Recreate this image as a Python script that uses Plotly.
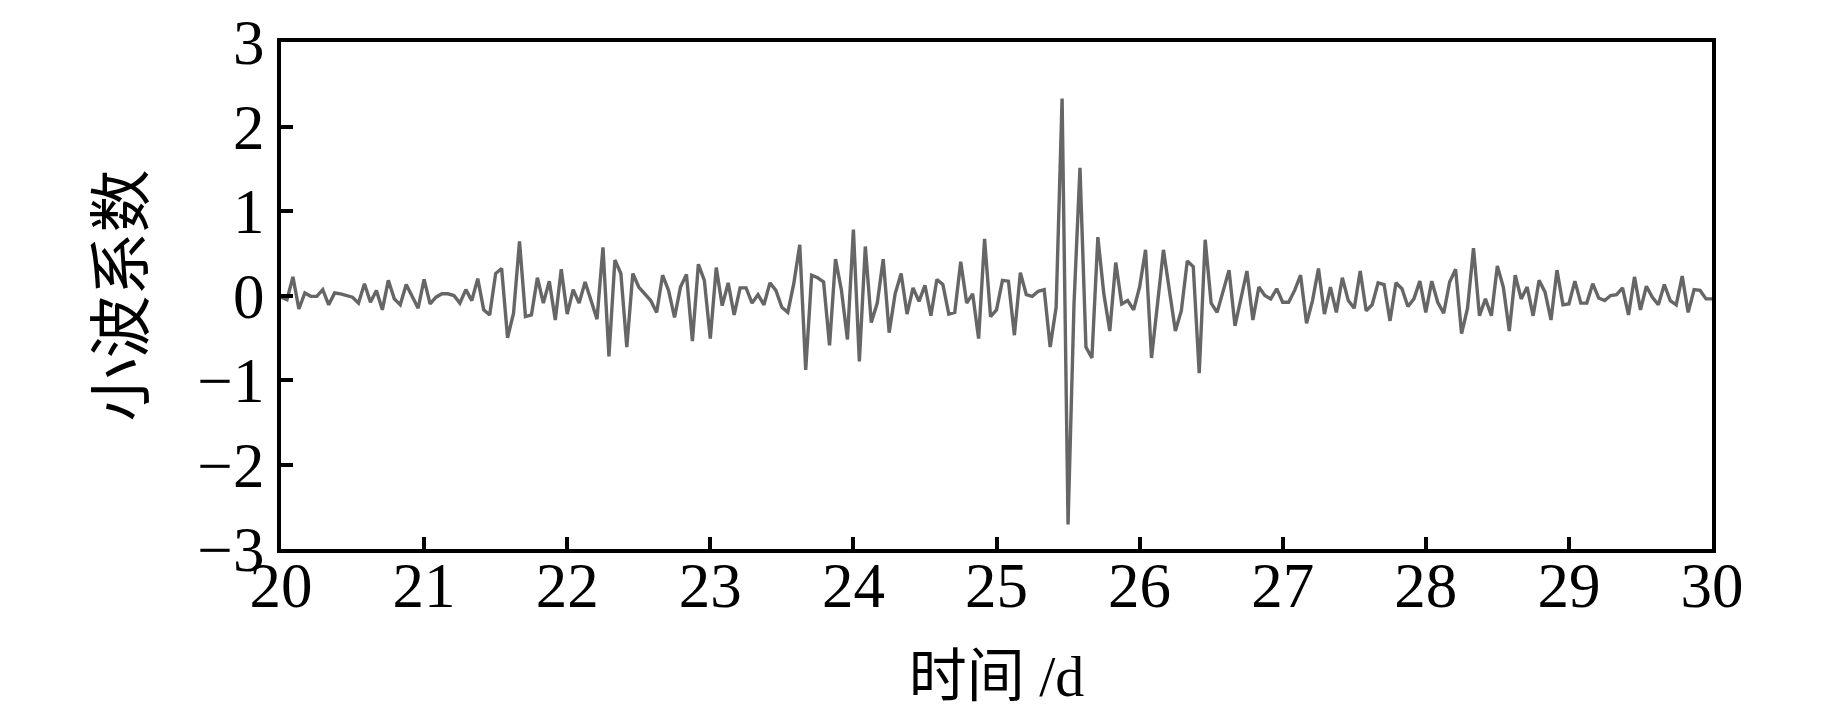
import plotly.graph_objects as go

# Wavelet coefficients, hourly samples from day 20 to day 30
coef = [
    -0.02, -0.05, 0.22, -0.16, 0.03, -0.01, -0.01, 0.07, -0.11, 0.03,
    0.02, 0.00, -0.02, -0.09, 0.14, -0.08, 0.06, -0.17, 0.18, -0.04,
    -0.11, 0.13, -0.01, -0.15, 0.19, -0.10, -0.02, 0.02, 0.02, 0.00,
    -0.09, 0.07, -0.06, 0.20, -0.17, -0.23, 0.26, 0.32, -0.50, -0.21,
    0.64, -0.25, -0.23, 0.21, -0.09, 0.17, -0.29, 0.31, -0.22, 0.07,
    -0.09, 0.16, -0.06, -0.28, 0.57, -0.72, 0.42, 0.26, -0.61, 0.26,
    0.10, 0.02, -0.06, -0.20, 0.24, 0.06, -0.26, 0.10, 0.25, -0.54,
    0.37, 0.18, -0.51, 0.33, -0.12, 0.15, -0.23, 0.09, 0.09, -0.09,
    0.01, -0.11, 0.15, 0.06, -0.14, -0.20, 0.14, 0.60, -0.88, 0.24,
    0.21, 0.16, -0.59, 0.43, 0.06, -0.52, 0.78, -0.78, 0.58, -0.32,
    -0.09, 0.43, -0.44, 0.02, 0.26, -0.22, 0.09, -0.07, 0.12, -0.24,
    0.19, 0.13, -0.22, -0.20, 0.40, -0.09, 0.02, -0.51, 0.67, -0.25,
    -0.17, 0.18, 0.17, -0.47, 0.27, 0.01, -0.01, 0.05, 0.07, -0.61,
    -0.14, 2.33, -2.71, -0.10, 1.51, -0.61, -0.74, 0.69, 0.02, -0.42,
    0.39, -0.10, -0.06, -0.17, 0.10, 0.54, -0.74, -0.10, 0.54, 0.06,
    -0.42, -0.18, 0.41, 0.34, -0.92, 0.66, -0.09, -0.20, 0.04, 0.30,
    -0.36, -0.02, 0.29, -0.29, 0.10, 0.00, -0.04, 0.08, -0.08, -0.08,
    0.06, 0.24, -0.33, -0.06, 0.32, -0.22, 0.10, -0.20, 0.21, -0.06,
    -0.15, 0.29, -0.18, -0.11, 0.15, 0.13, -0.30, 0.15, 0.08, -0.13,
    -0.04, 0.17, -0.20, 0.17, -0.08, -0.21, 0.16, 0.31, -0.45, -0.15,
    0.56, -0.24, -0.04, -0.24, 0.35, 0.10, -0.42, 0.24, -0.04, 0.10,
    -0.24, 0.18, 0.04, -0.29, 0.30, -0.11, -0.10, 0.17, -0.09, -0.09,
    0.14, -0.03, -0.06, 0.00, 0.01, 0.09, -0.23, 0.22, -0.17, 0.11,
    -0.02, -0.11, 0.13, -0.06, -0.11, 0.23, -0.20, 0.07, 0.06, -0.04,
    -0.04,
]
start_day = 20
hours_per_day = 24
time_d = [start_day + h / hours_per_day for h in range(len(coef))]

x_ticks = [20, 21, 22, 23, 24, 25, 26, 27, 28, 29, 30]
y_ticks = [-3, -2, -1, 0, 1, 2, 3]
x_title = "时间 /d"
y_title = "小波系数"

FONT = "Liberation Serif, Times New Roman, Noto Sans CJK SC, serif"

fig = go.Figure()
fig.add_trace(go.Scatter(
    x=time_d, y=coef, mode="lines",
    line=dict(color="#666666", width=3.4),
    showlegend=False, hoverinfo="skip",
))

axis_common = dict(
    showline=True, linecolor="black", linewidth=4, mirror=True,
    ticks="inside", ticklen=12, tickwidth=3.5, tickcolor="black",
    showgrid=False, zeroline=False,
    ticklabeloverflow="allow",
    tickfont=dict(family=FONT, size=63, color="black"),
)

fig.update_xaxes(
    range=[20, 30], tickvals=x_ticks, ticktext=[str(v) for v in x_ticks],
    title=dict(text=x_title, font=dict(family=FONT, size=58, color="black"), standoff=38),
    ticklabelstandoff=-22,
    **axis_common,
)
fig.update_yaxes(
    range=[-3, 3], tickvals=y_ticks,
    ticktext=[("\u2212" + str(-v)) if v < 0 else str(v) for v in y_ticks],
    title=dict(text=y_title, font=dict(family=FONT, size=63, color="black"), standoff=34),
    ticklabelstandoff=0,
    **axis_common,
)

# The page body has an 8px default margin; size the figure so the plot
# area lands at the same pixel position as in the reference.
fig.update_layout(
    width=1835, height=701,
    margin=dict(l=273, r=131, t=34, b=160, autoexpand=False),
    paper_bgcolor="white", plot_bgcolor="white",
)

fig.write_html("out.html")
